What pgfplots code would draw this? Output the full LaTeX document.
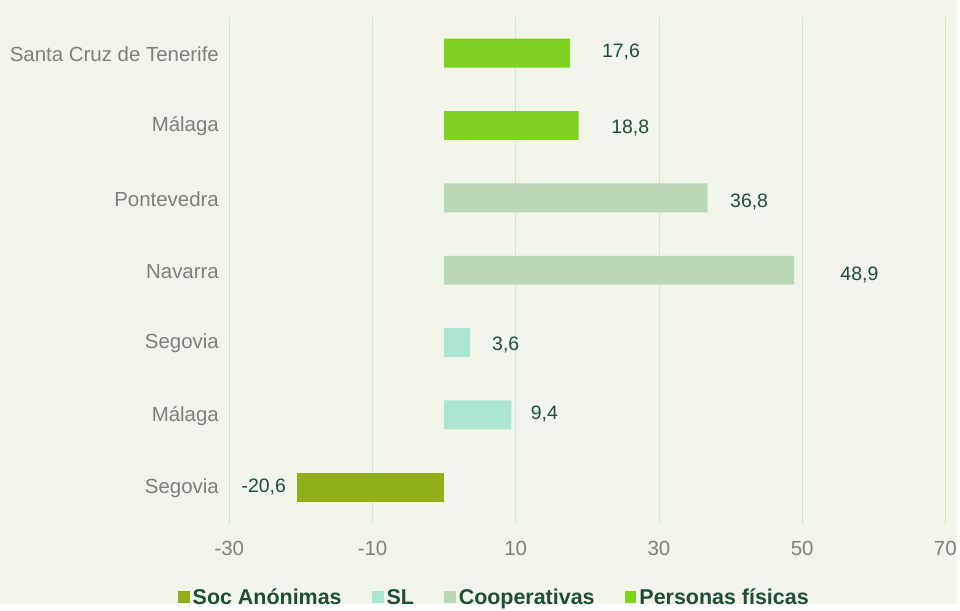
\documentclass[border=0pt]{standalone}
\usepackage{fontspec}
\setmainfont{Liberation Sans}
\usepackage{pgfplots}
\pgfplotsset{compat=1.18}
\definecolor{bg}{HTML}{F2F5EA}
\definecolor{gridc}{HTML}{D3E6CE}
\definecolor{tickc}{HTML}{7F7F7F}
\definecolor{lblc}{HTML}{1E4F35}
\definecolor{socc}{HTML}{8FB01A}
\definecolor{slc}{HTML}{ABE6D2}
\definecolor{coopc}{HTML}{BAD8B8}
\definecolor{perc}{HTML}{7ED321}
\begin{document}
\begin{tikzpicture}
\fill[bg] (0,0) rectangle (960pt,606pt);
\begin{axis}[
  at={(230pt,81pt)}, anchor=south west,
  scale only axis, width=718pt, height=508pt,
  xmin=-30, xmax=70, ymin=-0.5, ymax=6.5,
  xtick={-30,-10,...,70},
  ytick={0,...,6},
  yticklabels={Segovia,Málaga,Segovia,Navarra,Pontevedra,Málaga,Santa Cruz de Tenerife},
  xmajorgrids, grid style={gridc, line width=0.8pt},
  axis line style={draw=none},
  major tick length=0pt,
  tick label style={font=\fontsize{20.5}{23}\selectfont, text=tickc},
  /pgf/number format/assume math mode=true,
  xticklabel style={yshift=-14pt},
  yticklabel style={xshift=-7pt, yshift=-1pt},
  legend columns=4,
  legend style={at={(0.37,-0.146)}, anchor=center, draw=none, fill=none,
    font=\fontsize{21.5}{24}\selectfont\bfseries, text=lblc,
    /tikz/every odd column/.append style={column sep=1pt},
    /tikz/every even column/.append style={column sep=28pt}},
  legend image code/.code={\fill[#1] (0pt,-6pt) rectangle (12pt,6pt);},
  bb/.style={xbar, bar width=29pt, bar shift=0pt, draw=none},
]
\addplot[bb, fill=socc] coordinates {(-20.6,0)};
\addlegendentry{Soc Anónimas}
\addplot[bb, fill=slc] coordinates {(9.4,1) (3.6,2)};
\addlegendentry{SL}
\addplot[bb, fill=coopc] coordinates {(48.9,3) (36.8,4)};
\addlegendentry{Cooperativas}
\addplot[bb, fill=perc] coordinates {(18.8,5) (17.6,6)};
\addlegendentry{Personas físicas}
\addplot[draw=none, mark=none, forget plot, nodes near coords, point meta=explicit symbolic,
  nodes near coords style={anchor=center, font=\fontsize{19.5}{22}\selectfont, text=lblc}]
  table[meta=l] {
x y l
-25.2 0.0 -20,6
14.0 1.02 9,4
8.6 1.97 3,6
58.0 2.94 48,9
42.6 3.94 36,8
26.0 4.97 18,8
24.7 6.01 17,6
};
\end{axis}
\end{tikzpicture}
\end{document}
